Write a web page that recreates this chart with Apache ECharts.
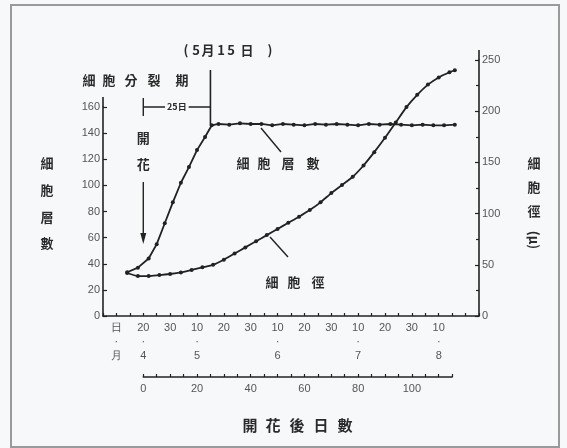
<!DOCTYPE html>
<html><head><meta charset="utf-8">
<script src="https://cdn.jsdelivr.net/npm/echarts/dist/echarts.min.js"></script>
<style>html,body{margin:0;padding:0;background:#f6f8fa}#c{width:567px;height:448px}</style>
</head><body><div id="c"></div>
<script>
// ---- data (days after flowering, values) ----
const layerDays   = [-6, -2, 2, 5, 8, 11, 14, 17, 20, 23, 25.5, 28, 32, 36, 40, 44, 48, 52, 56, 60, 64, 68, 72, 76, 80, 84, 88, 92, 96, 100, 104, 108, 112, 116];
const layerValues = [33.5, 37, 44, 55, 71, 87, 102, 114, 127, 137, 146, 147, 146.5, 147.5, 147, 147, 146, 147, 146.5, 146, 147, 146.5, 147, 146.5, 146, 147, 146.5, 147, 146.5, 146, 146.5, 146, 146, 146.5];
const diamDays    = [-6, -2, 2, 6, 10, 14, 18, 22, 26, 30, 34, 38, 42, 46, 50, 54, 58, 62, 66, 70, 74, 78, 82, 86, 90, 94, 98, 102, 106, 110, 114, 116];
const diamValues  = [42, 39, 39, 40, 41, 42.5, 45, 47.5, 50, 55, 61, 67, 73, 79, 85, 91, 97, 103.5, 111, 120, 128, 136, 147, 160, 174, 189, 204, 216, 226, 233, 238, 240];

// date axis tick labels (day value -> text)
const dateTickDays  = [-10, 0, 10, 20, 30, 40, 50, 60, 70, 80, 90, 100, 110];
const dateTickTexts = ['日', '20', '30', '10', '20', '30', '10', '20', '30', '10', '20', '30', '10'];
const dateTickMonth = ['月', '4', '', '5', '', '', '6', '', '', '7', '', '', '8'];
const dayTickLabels = [0, 20, 40, 60, 80, 100];
const leftTicks  = [0, 20, 40, 60, 80, 100, 120, 140, 160];
const rightTicks = [0, 50, 100, 150, 200, 250];

const CJK = "'Noto Sans CJK TC','Noto Sans CJK SC',sans-serif";
const NUM = "'Liberation Sans','DejaVu Sans',sans-serif";
const INK = '#222';
const TXT = '#2a2a2a';

const L = 103, R = 479, B = 316;
const W = R - L;
const dayMin = -15, dayMax = 125;
const pxPerDay = W / (dayMax - dayMin);

const chart = echarts.init(document.getElementById('c'), null, {renderer: 'canvas'});

function dateLabel(v) {
  const i = dateTickDays.indexOf(v);
  if (i < 0) return '';
  return dateTickMonth[i] ? dateTickTexts[i] + '\n·\n' + dateTickMonth[i] : dateTickTexts[i];
}

const option = {
  backgroundColor: '#f6f8fa',
  animation: false,
  grid: [
    {left: L, width: W, top: 107, height: B - 107},
    {left: L, width: W, top: 60, height: B - 60},
    {left: L + (0 - dayMin) * pxPerDay, width: 115 * pxPerDay, top: 370, height: 7}
  ],
  xAxis: [
    {gridIndex: 0, type: 'value', min: dayMin, max: dayMax, interval: 5,
     axisLine: {onZero: false, lineStyle: {color: INK, width: 1.6}},
     axisTick: {inside: true, length: 3, lineStyle: {color: INK, width: 1.2}},
     axisLabel: {formatter: dateLabel, fontSize: 11, lineHeight: 14, margin: 5, color: '#555', fontFamily: NUM},
     splitLine: {show: false}},
    {gridIndex: 1, type: 'value', min: dayMin, max: dayMax, show: false, axisLine: {onZero: false}},
    {gridIndex: 2, type: 'value', min: 0, max: 115, interval: 5,
     axisLine: {onZero: false, lineStyle: {color: INK, width: 1.6}},
     axisTick: {inside: true, length: 3, lineStyle: {color: INK, width: 1.2}},
     axisLabel: {formatter: v => dayTickLabels.includes(v) ? String(v) : '', fontSize: 11, margin: 6, color: '#555', fontFamily: NUM},
     splitLine: {show: false}}
  ],
  yAxis: [
    {gridIndex: 0, type: 'value', min: 0, max: 160, interval: 20, position: 'left',
     axisLine: {show: true, onZero: false, lineStyle: {color: INK, width: 1.6}},
     axisTick: {show: true, inside: true, length: 4, lineStyle: {color: INK, width: 1.2}},
     axisLabel: {formatter: v => leftTicks.includes(v) ? String(v) : '', fontSize: 11, margin: 3, color: '#555', fontFamily: NUM},
     splitLine: {show: false}},
    {gridIndex: 1, type: 'value', min: 0, max: 250, interval: 50, position: 'right',
     axisLine: {show: true, onZero: false, lineStyle: {color: INK, width: 1.6}},
     axisTick: {show: true, inside: true, length: 4, lineStyle: {color: INK, width: 1.2}},
     minorTick: {show: true, splitNumber: 2, length: 3, lineStyle: {color: INK, width: 1.2}},
     axisLabel: {formatter: v => rightTicks.includes(v) ? String(v) : '', fontSize: 11, margin: 3, color: '#555', fontFamily: NUM},
     splitLine: {show: false}},
    {gridIndex: 2, type: 'value', min: 0, max: 1, show: false, axisLine: {onZero: false}}
  ],
  series: [
    {name: '細胞層數', type: 'line', xAxisIndex: 0, yAxisIndex: 0,
     data: layerDays.map((d, i) => [d, layerValues[i]]),
     symbol: 'circle', symbolSize: 4, itemStyle: {color: INK},
     lineStyle: {color: INK, width: 1.8}, clip: false},
    {name: '細胞徑', type: 'line', xAxisIndex: 1, yAxisIndex: 1,
     data: diamDays.map((d, i) => [d, diamValues[i]]),
     symbol: 'circle', symbolSize: 4, itemStyle: {color: INK},
     smooth: 0.2,
     lineStyle: {color: INK, width: 1.8}, clip: false}
  ]
};
chart.setOption(option);

// ---- annotations ----
const px = d => chart.convertToPixel({xAxisIndex: 0}, d);
const py = v => chart.convertToPixel({yAxisIndex: 0}, v);
const g = [];
function txt(s, x, y, size, opts) {
  g.push({type: 'text', x: x, y: y, style: Object.assign({text: s, fill: TXT, font: 'bold ' + size + 'px ' + CJK, align: 'center', verticalAlign: 'middle'}, opts || {})});
}
function chars(list, xs, ys, size) {
  list.forEach((c, i) => txt(c, Array.isArray(xs) ? xs[i] : xs, Array.isArray(ys) ? ys[i] : ys, size));
}
function line(x1, y1, x2, y2, w) {
  g.push({type: 'line', shape: {x1, y1, x2, y2}, style: {stroke: INK, lineWidth: w || 1.5}});
}

// border
g.push({type: 'rect', shape: {x: 11, y: 5, width: 548, height: 442}, style: {fill: 'none', stroke: '#9a9a9a', lineWidth: 2}});

// short axis-line extensions above the top ticks
line(L, 97, L, 107, 1.6);
line(R, 50, R, 60, 1.6);

const x0 = px(0), x25 = px(25);
// (5月15日)
chars(['(', '5', '月', '1', '5', '日', ')'], [186, 196, 208, 221, 231, 247, 270], 50, 13);
// 細胞分裂期
chars(['細', '胞', '分', '裂', '期'], [89, 109, 131, 154, 182], 80, 13);
// vertical line at day 25
line(x25, 70, x25, py(146), 1.6);
// 25日 bracket
line(x0, 107, x25, 107, 1.4);
line(x0, 98, x0, 116, 1.4);
g.push({type: 'text', x: (x0 + x25) / 2, y: 107, style: {text: '25日', fill: TXT, font: 'bold 9px ' + CJK, align: 'center', verticalAlign: 'middle', backgroundColor: '#f6f8fa', padding: [0, 2]}});
// 開花 + arrow
chars(['開', '花'], x0, [138, 164], 13);
line(x0, 182, x0, 236, 1.4);
g.push({type: 'polygon', shape: {points: [[x0 - 3, 233], [x0 + 3, 233], [x0, 244]]}, style: {fill: INK}});
// series labels with leader lines
chars(['細', '胞', '層', '數'], [243, 264, 288, 313], 163, 13);
line(261, 128, 281, 152, 1.4);
chars(['細', '胞', '徑'], [272, 294, 318], 282, 13);
line(270, 237, 288, 257, 1.4);
// axis titles
chars(['細', '胞', '層', '數'], 47, [163, 190, 217, 243], 13);
chars(['細', '胞', '徑'], 534, [163, 187, 211], 13);
g.push({type: 'text', x: 534, y: 240, rotation: -Math.PI / 2, style: {text: '(μ)', fill: TXT, font: 'bold 13px ' + CJK, align: 'center', verticalAlign: 'middle'}});
// bottom title
chars(['開', '花', '後', '日', '數'], [250, 273, 297, 321, 345], 425, 15);

chart.setOption({graphic: g});
</script>
</body></html>
